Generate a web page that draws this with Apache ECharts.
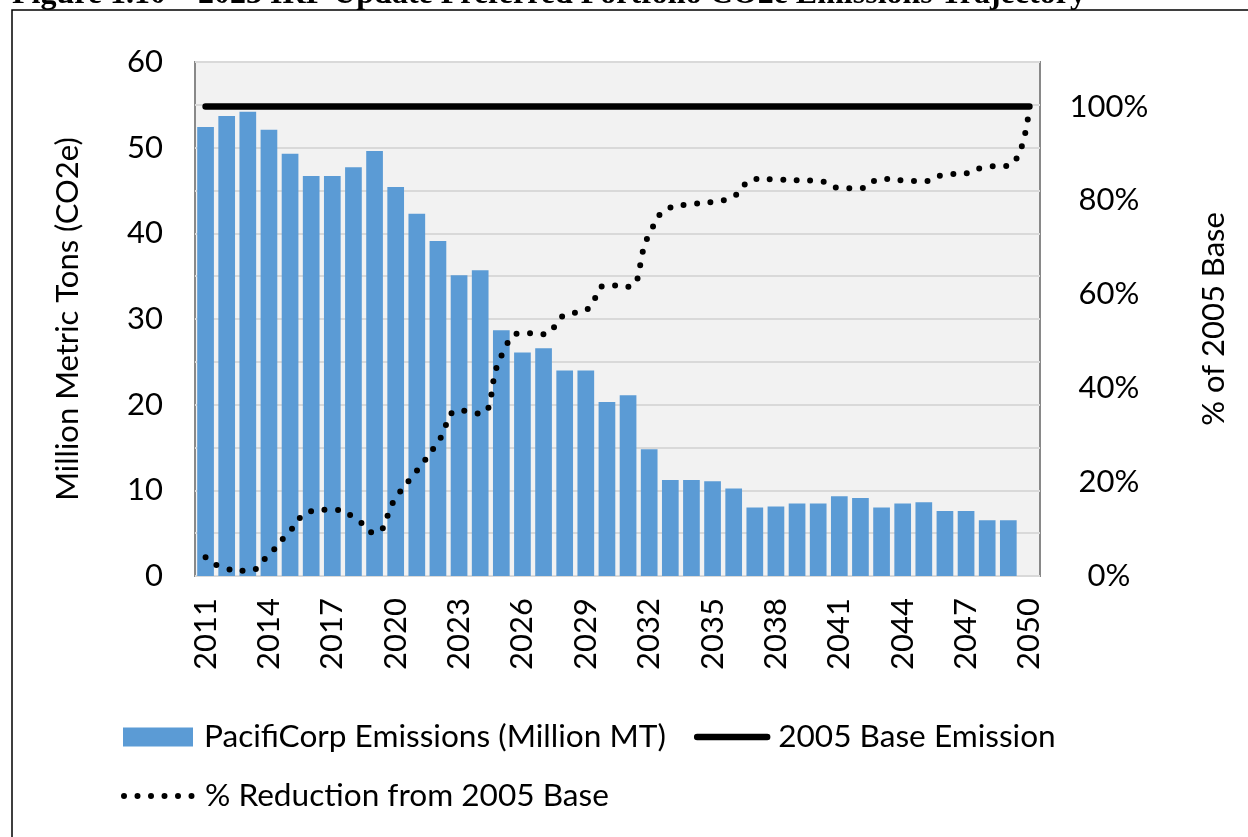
<!DOCTYPE html>
<html>
<head>
<meta charset="utf-8">
<script src="https://cdn.jsdelivr.net/npm/echarts@6/dist/echarts.min.js"></script>
<style>
html,body{margin:0;padding:0;background:#fff;}
#chart{width:1248px;height:837px;}
</style>
</head>
<body>
<div id="chart"></div>
<script>
const years = ['2011','2012','2013','2014','2015','2016','2017','2018','2019','2020',
  '2021','2022','2023','2024','2025','2026','2027','2028','2029','2030',
  '2031','2032','2033','2034','2035','2036','2037','2038','2039','2040',
  '2041','2042','2043','2044','2045','2046','2047','2048','2049','2050'];
const emissions = [52.4,53.7,54.2,52.1,49.3,46.7,46.7,47.7,49.6,45.4,
  42.3,39.1,35.1,35.7,28.7,26.1,26.6,24.0,24.0,20.3,
  21.1,14.8,11.2,11.2,11.05,10.2,8.0,8.1,8.45,8.45,
  9.3,9.1,8.0,8.45,8.6,7.6,7.6,6.5,6.5,0];
const baseEmission = [54.8,54.8,54.8,54.8,54.8,54.8,54.8,54.8,54.8,54.8,
  54.8,54.8,54.8,54.8,54.8,54.8,54.8,54.8,54.8,54.8,
  54.8,54.8,54.8,54.8,54.8,54.8,54.8,54.8,54.8,54.8,
  54.8,54.8,54.8,54.8,54.8,54.8,54.8,54.8,54.8,54.8];
const reductionPct = [4.0,1.5,1.1,4.6,9.6,13.8,14.1,12.6,9.2,16.6,
  22.4,28.5,35.3,34.6,46.9,51.8,51.5,55.6,56.6,62.0,
  61.6,72.8,78.5,79.2,79.7,80.9,84.6,84.5,84.3,84.2,
  82.7,82.6,84.6,84.3,84.1,85.5,85.8,87.2,87.4,100];
const leftTicks = {min:0, max:60, interval:5, labelEvery:10};
const rightTicks = {min:0, max:109.5, interval:20, lastLabel:100};

const FONT = 'Lato';
const FS = 31;
const LEGEND_FS = 31.6;
const dotStyle = {color:'#000', width:6, type:[0,13.5], cap:'round'};
const baseStyle = {color:'#000', width:6.5, type:'solid', cap:'round'};
const hiddenSymbol = {color:'rgba(0,0,0,0)', borderColor:'rgba(0,0,0,0)', borderWidth:0};

const chart = echarts.init(document.getElementById('chart'), null, {renderer:'canvas'});
chart.setOption({
  animation:false,
  backgroundColor:'#ffffff',
  textStyle:{fontFamily:FONT},
  graphic:[
    {type:'text', left:12, top:-21, silent:true,
     style:{text:'Figure 1.10 \u2013 2023 IRP Update Preferred Portfolio CO2e Emissions Trajectory',
       font:'bold 32px "Liberation Serif", "Times New Roman", serif', fill:'#000'}},
    {type:'rect', silent:true, shape:{x:12,y:10,width:1300,height:900},
     style:{fill:'none', stroke:'#000', lineWidth:1.5}}
  ],
  grid:{left:195, top:62, width:845, height:514, show:true,
    backgroundColor:'#F2F2F2', borderColor:'#898989', borderWidth:2},
  legend:[
    {left:118, top:716, itemWidth:70, itemHeight:19, itemGap:28,
     data:[
       {name:'PacifiCorp Emissions (Million MT)', icon:'rect'},
       {name:'2005 Base Emission', itemStyle:hiddenSymbol, lineStyle:baseStyle}
     ],
     textStyle:{fontFamily:FONT, fontSize:LEGEND_FS, color:'#000', padding:[0,0,0,6]}},
    {left:116, top:775, itemWidth:72, itemHeight:19,
     data:[{name:'% Reduction from 2005 Base', itemStyle:hiddenSymbol, lineStyle:dotStyle}],
     textStyle:{fontFamily:FONT, fontSize:LEGEND_FS, color:'#000', padding:[0,0,0,4]}}
  ],
  xAxis:{type:'category', data:years, boundaryGap:true,
    axisLine:{show:false}, axisTick:{show:false},
    axisLabel:{interval:2, rotate:90, margin:22, fontSize:FS, color:'#000', fontFamily:FONT}},
  yAxis:[
    {type:'value', min:leftTicks.min, max:leftTicks.max, interval:leftTicks.interval,
     name:'Million Metric Tons (CO2e)', nameLocation:'middle', nameGap:112,
     nameTextStyle:{fontSize:FS, color:'#000', fontFamily:FONT},
     axisLine:{show:false}, axisTick:{show:false},
     axisLabel:{margin:32, fontSize:FS, color:'#000', fontFamily:FONT,
       formatter:v => (v % leftTicks.labelEvery === 0 ? String(v) : '')},
     splitLine:{show:true, lineStyle:{color:'#D9D9D9', width:2}}},
    {type:'value', min:rightTicks.min, max:rightTicks.max, interval:rightTicks.interval,
     position:'right',
     name:'% of 2005 Base', nameLocation:'middle', nameGap:158, nameRotate:90,
     nameTextStyle:{fontSize:FS, color:'#000', fontFamily:FONT},
     axisLine:{show:false}, axisTick:{show:false}, splitLine:{show:false},
     axisLabel:{margin:69, align:'center', fontSize:FS, color:'#000', fontFamily:FONT,
       showMaxLabel:false,
       formatter:v => (v % rightTicks.interval === 0 && v <= rightTicks.lastLabel ? v + '%' : '')}}
  ],
  series:[
    {name:'PacifiCorp Emissions (Million MT)', type:'bar', data:emissions,
     yAxisIndex:0, barCategoryGap:'21%', itemStyle:{color:'#5B9BD5'}},
    {name:'2005 Base Emission', type:'line', data:baseEmission, yAxisIndex:0,
     symbol:'none', lineStyle:baseStyle, itemStyle:{color:'#000'}},
    {name:'% Reduction from 2005 Base', type:'line', data:reductionPct, yAxisIndex:1,
     symbol:'none', smooth:true, lineStyle:dotStyle, itemStyle:{color:'#000'}}
  ]
});
</script>
</body>
</html>
